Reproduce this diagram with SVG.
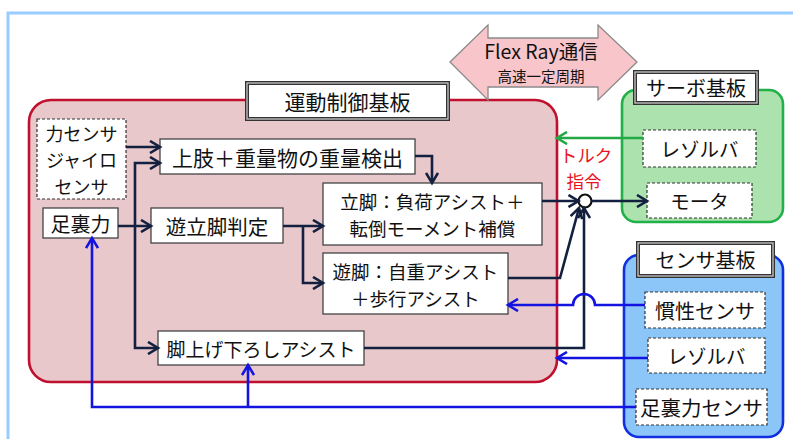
<svg xmlns="http://www.w3.org/2000/svg" width="793" height="439" viewBox="0 0 793 439">
<defs>
<style>
text{font-family:"Noto Sans CJK JP","Liberation Sans",sans-serif;fill:#111;text-anchor:middle;dominant-baseline:central}
.box{fill:#fff;stroke:#444;stroke-width:1.3}
.dash{fill:#fff;stroke:#333;stroke-width:1.2;stroke-dasharray:3 2}
.t1{fill:#fff;stroke:#333;stroke-width:4}
.t2{fill:none;stroke:#c8c8c8;stroke-width:1.3}
.nv{fill:none;stroke:#13203f;stroke-width:2.6}
.bl{fill:none;stroke:#1414e0;stroke-width:2.6}
.gr{fill:none;stroke:#22a845;stroke-width:2.6}
</style>
<marker id="an" markerUnits="userSpaceOnUse" markerWidth="14" markerHeight="14" viewBox="0 0 14 14" refX="11" refY="7" orient="auto"><path d="M1,1 L11,7 L1,13" fill="none" stroke="#13203f" stroke-width="2.6"/></marker>
<marker id="ab" markerUnits="userSpaceOnUse" markerWidth="14" markerHeight="14" viewBox="0 0 14 14" refX="11" refY="7" orient="auto"><path d="M1,1 L11,7 L1,13" fill="none" stroke="#1414e0" stroke-width="2.6"/></marker>
<marker id="ag" markerUnits="userSpaceOnUse" markerWidth="14" markerHeight="14" viewBox="0 0 14 14" refX="11" refY="7" orient="auto"><path d="M1,1 L11,7 L1,13" fill="none" stroke="#22a845" stroke-width="2.6"/></marker>
</defs>
<rect width="793" height="439" fill="#fff"/>
<path d="M8,439 L8,13 L793,13" fill="none" stroke="#99ccff" stroke-width="3"/>

<g id="motion-board">
<rect x="29" y="100" width="528" height="282" rx="22" fill="#e8c8cb" stroke="#c0102e" stroke-width="2.6"/>
</g>
<g id="servo-board">
<rect x="622" y="90" width="161" height="132" rx="14" fill="#ace2ae" stroke="#22b048" stroke-width="2.6"/>
</g>
<g id="sensor-board">
<rect x="624" y="255" width="159" height="182" rx="15" fill="#8cc6f8" stroke="#1030e0" stroke-width="2.6"/>
</g>

<g id="flexray">
<path d="M450,62 L488,25 L488,38 L598,38 L598,25 L637,62 L598,100 L598,87 L488,87 L488,100 Z" fill="#f8c6ca" stroke="#8a8a8a" stroke-width="1.3"/>
<text x="541" y="50.5" font-size="19.5">Flex Ray通信</text>
<text x="541" y="75.5" font-size="14.5">高速一定周期</text>
</g>

<g id="motion-title">
<rect class="t1" x="247" y="83" width="201" height="36"/><rect class="t2" x="247" y="83" width="201" height="36"/>
<text x="347.5" y="101" font-size="21">運動制御基板</text>
</g>
<g id="servo-title">
<rect class="t1" x="635" y="72" width="122" height="31"/><rect class="t2" x="635" y="72" width="122" height="31"/>
<text x="696" y="87.5" font-size="20">サーボ基板</text>
</g>
<g id="sensor-title">
<rect class="t1" x="638" y="243" width="135" height="33"/><rect class="t2" x="638" y="243" width="135" height="33"/>
<text x="705.5" y="259.5" font-size="20">センサ基板</text>
</g>

<g id="force-gyro">
<rect class="dash" x="37" y="119" width="89" height="80"/>
<text font-size="18"><tspan x="81.5" y="132.5">力センサ</tspan><tspan x="81.5" y="159">ジャイロ</tspan><tspan x="81.5" y="185.5">センサ</tspan></text>
</g>
<g id="sole-force">
<rect class="box" x="43" y="208" width="75" height="30"/>
<text x="80.5" y="223" font-size="20">足裏力</text>
</g>
<g id="weight-detect">
<rect class="box" x="160" y="139" width="255" height="35"/>
<text x="287.5" y="156.5" font-size="21">上肢＋重量物の重量検出</text>
</g>
<g id="stance-judge">
<rect class="box" x="151" y="208" width="132" height="35"/>
<text x="217" y="225.5" font-size="20.5">遊立脚判定</text>
</g>
<g id="stance-assist">
<rect class="box" x="323" y="183" width="219" height="62"/>
<text font-size="18.5"><tspan x="432.5" y="200.5">立脚：負荷アシスト＋</tspan><tspan x="432.5" y="227.5">転倒モーメント補償</tspan></text>
</g>
<g id="swing-assist">
<rect class="box" x="323" y="253" width="185" height="61"/>
<text font-size="18.5"><tspan x="415.5" y="270.5">遊脚：自重アシスト</tspan><tspan x="415.5" y="297.5">＋歩行アシスト</tspan></text>
</g>
<g id="leg-lift">
<rect class="box" x="158" y="331" width="206" height="34"/>
<text x="261" y="348" font-size="19">脚上げ下ろしアシスト</text>
</g>
<g id="servo-resolver">
<rect class="dash" x="643" y="130" width="113" height="37"/>
<text x="699.5" y="148.5" font-size="19.5">レゾルバ</text>
</g>
<g id="motor">
<rect class="dash" x="647" y="183" width="105" height="35"/>
<text x="699.5" y="200.5" font-size="19.5">モータ</text>
</g>
<g id="imu">
<rect class="dash" x="645" y="292" width="120" height="36"/>
<text x="705" y="310" font-size="20">慣性センサ</text>
</g>
<g id="sensor-resolver">
<rect class="dash" x="648" y="338" width="117" height="35"/>
<text x="706.5" y="355.5" font-size="19.5">レゾルバ</text>
</g>
<g id="sole-sensor">
<rect class="dash" x="636" y="389" width="131" height="36"/>
<text x="701.5" y="407" font-size="20.5">足裏力センサ</text>
</g>
<g id="torque-sum">
<circle cx="585" cy="201" r="6.5" fill="#fff" stroke="#111" stroke-width="2.2"/>
<text font-size="17.5" style="fill:#e8141e"><tspan x="586" y="154">トルク</tspan><tspan x="584" y="179.5">指令</tspan></text>
</g>

<g id="connectors">
<path class="nv" d="M126,147 L160,147" marker-end="url(#an)"/>
<path class="nv" d="M118,226 L151,226" marker-end="url(#an)"/>
<path class="nv" d="M135,226 L135,163 L160,163" marker-end="url(#an)"/>
<path class="nv" d="M135,226 L135,348 L158,348" marker-end="url(#an)"/>
<path class="nv" d="M283,226 L323,226" marker-end="url(#an)"/>
<path class="nv" d="M303,226 L303,283 L323,283" marker-end="url(#an)"/>
<path class="nv" d="M415,156 L432,156 L432,183" marker-end="url(#an)"/>
<path class="nv" d="M542,201 L578.5,201" marker-end="url(#an)"/>
<path class="nv" d="M508,278 L560,278 L579,208" marker-end="url(#an)"/>
<path class="nv" d="M364,348 L584,348 L584,208" marker-end="url(#an)"/>
<path class="nv" d="M591.5,201 L647,201" marker-end="url(#an)"/>
<path class="gr" d="M643,138 L557,138" marker-end="url(#ag)"/>
<path class="bl" d="M645,305 L595,305 A11,11 0 0 0 573,305 L508,305" marker-end="url(#ab)"/>
<path class="bl" d="M648,358 L557,358" marker-end="url(#ab)"/>
<path class="bl" d="M636,407 L92,407 L92,238" marker-end="url(#ab)"/>
<path class="bl" d="M248,407 L248,365" marker-end="url(#ab)"/>
</g>
</svg>
